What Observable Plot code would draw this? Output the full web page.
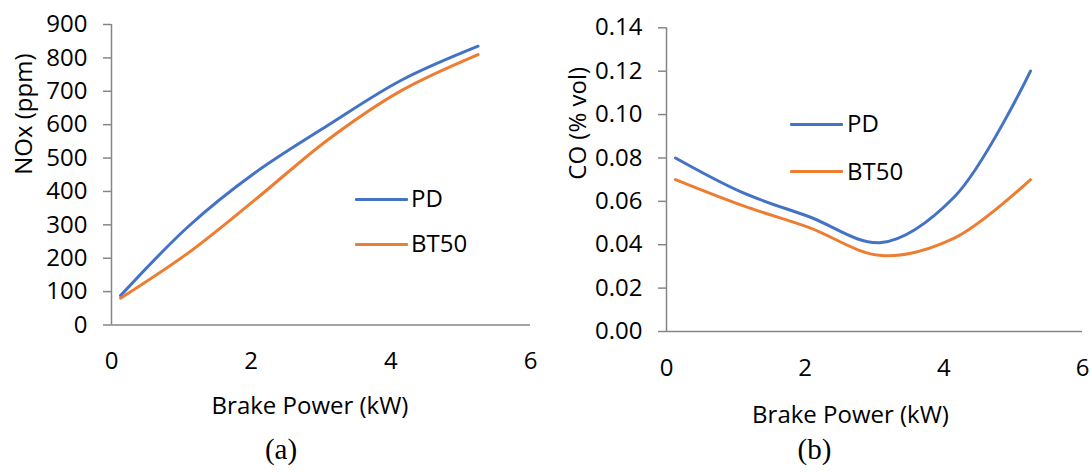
<!DOCTYPE html>
<html>
<head>
<meta charset="utf-8">
<script src="https://cdn.jsdelivr.net/npm/d3@7"></script>
<script src="https://cdn.jsdelivr.net/npm/@observablehq/plot@0.6"></script>
<style>
  html, body { margin: 0; padding: 0; background: #fff; }
  #wrap { position: relative; width: 1091px; height: 472px; overflow: hidden; background: #fff; font-family: "Open Sans", sans-serif; }
  .panel { position: absolute; top: 0; }
  .lg-line { position: absolute; height: 3px; width: 53px; border-radius: 1px; }
  .lg-text { position: absolute; font-size: 24px; line-height: 28px; color: #000; font-family: "Open Sans", sans-serif; }
  #wrap svg g[aria-label$="tick label"], #wrap svg g[aria-label$="tick label"] text { font-size: 24px !important; font-family: "Open Sans", sans-serif !important; }
</style>
</head>
<body>
<div id="wrap"></div>
<script>
// ---- data ----
const brakePower = [0.13, 1.1, 2.05, 3.1, 4.15, 5.25];
const noxPD   = [88, 295, 455, 598, 733, 835];
const noxBT50 = [80, 216, 374, 555, 702, 810];
const coPD    = [0.080, 0.064, 0.053, 0.041, 0.062, 0.120];
const coBT50  = [0.070, 0.058, 0.048, 0.035, 0.043, 0.070];
const seriesNames = ["PD", "BT50"];
const seriesColors = ["#4472C4", "#ED7D31"];
const xTicks = [0, 2, 4, 6];
const noxTicks = [0, 100, 200, 300, 400, 500, 600, 700, 800, 900];
const coTicks = [0, 0.02, 0.04, 0.06, 0.08, 0.10, 0.12, 0.14];

const font = "'Open Sans', sans-serif";
const axisGray = "#868686";
const fs = 24;

function rows(ys, name) {
  return brakePower.map((x, i) => ({x, y: ys[i], series: name}));
}

function panel({width, marginLeft, marginRight, marginTop, marginBottom, yDomain, yTicks, yFmt, data, yTitle, yTitleDx, xTitleDx, xTitleDy, capText, capDx, capDy}) {
  return Plot.plot({
    width, height: 472,
    marginLeft, marginRight, marginTop, marginBottom,
    style: {fontFamily: font, fontSize: fs + "px", color: "#000", background: "#fff", overflow: "visible"},
    x: {domain: [0, 6]},
    y: {domain: yDomain},
    color: {domain: seriesNames, range: seriesColors},
    marks: [
      Plot.ruleX([0], {stroke: axisGray, strokeWidth: 1.5}),
      Plot.ruleY([0], {stroke: axisGray, strokeWidth: 1.5}),
      Plot.axisY(yTicks, {tickSize: 8, tickPadding: 16, stroke: axisGray, strokeWidth: 1.5, fill: "#000", tickFormat: yFmt, label: null, fontSize: fs}),
      Plot.axisX(xTicks, {tickSize: 0, tickPadding: 27, fill: "#000", label: null, fontSize: fs}),
      Plot.line(data, {x: "x", y: "y", z: "series", stroke: "series", strokeWidth: 3, curve: "catmull-rom"}),
      Plot.text([yTitle], {frameAnchor: "left", rotate: -90, dx: yTitleDx, fontSize: fs, fill: "#000"}),
      Plot.text(["Brake Power (kW)"], {frameAnchor: "bottom", dx: xTitleDx, dy: xTitleDy, fontSize: fs, fill: "#000"}),
      Plot.text([capText], {frameAnchor: "bottom", dx: capDx, dy: capDy, fontSize: 29, fill: "#000", fontFamily: "'Liberation Serif', serif"})
    ]
  });
}

const wrap = document.getElementById("wrap");

const a = panel({
  width: 545, marginLeft: 111, marginRight: 15, marginTop: 24, marginBottom: 147.5,
  yDomain: [0, 900], yTicks: noxTicks, yFmt: d3.format("d"),
  data: [...rows(noxPD, "PD"), ...rows(noxBT50, "BT50")],
  yTitle: "NOx (ppm)", yTitleDx: -87,
  xTitleDx: -11, xTitleDy: 89, capText: "(a)", capDx: -40, capDy: 134
});
const pa = document.createElement("div"); pa.className = "panel"; pa.style.left = "0px"; pa.appendChild(a); wrap.appendChild(pa);

const b = panel({
  width: 546, marginLeft: 121, marginRight: 9, marginTop: 27.3, marginBottom: 141,
  yDomain: [0, 0.14], yTicks: coTicks, yFmt: d3.format(".2f"),
  data: [...rows(coPD, "PD"), ...rows(coBT50, "BT50")],
  yTitle: "CO (% vol)", yTitleDx: -88,
  xTitleDx: -24, xTitleDy: 91, capText: "(b)", capDx: -60, capDy: 127
});
const pb = document.createElement("div"); pb.className = "panel"; pb.style.left = "545px"; pb.appendChild(b); wrap.appendChild(pb);

// legends (HTML overlay)
function legend(left, textLeft, ys) {
  seriesNames.forEach((name, i) => {
    const l = document.createElement("div");
    l.className = "lg-line";
    l.style.left = left + "px"; l.style.top = (ys[i] - 1.5) + "px";
    l.style.background = seriesColors[i];
    wrap.appendChild(l);
    const t = document.createElement("div");
    t.className = "lg-text";
    t.style.left = textLeft + "px"; t.style.top = (ys[i] - 15) + "px";
    t.textContent = name;
    wrap.appendChild(t);
  });
}
legend(355, 411, [199, 244]);
legend(790, 847, [124, 171.5]);
</script>
</body>
</html>
